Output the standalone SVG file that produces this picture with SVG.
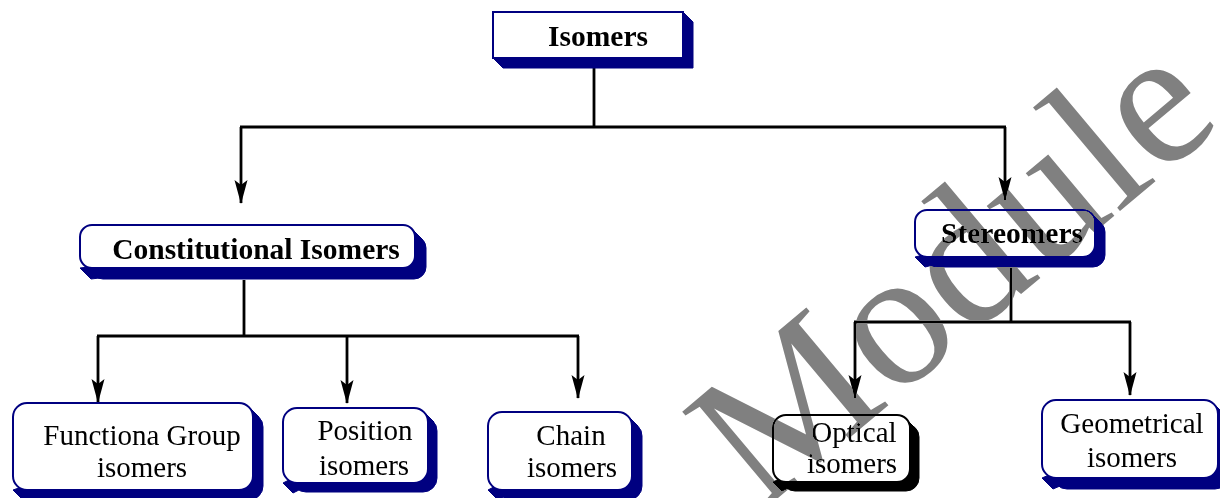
<svg xmlns="http://www.w3.org/2000/svg" width="1220" height="498" viewBox="0 0 1220 498">
<defs>
<style>
.sh{fill:#000080;stroke:#000080;stroke-width:1;stroke-linejoin:round}
.bx{fill:#fff;stroke:#000080;stroke-width:2}
.shk{fill:#000;stroke:#000;stroke-width:1;stroke-linejoin:round}
.bxk{fill:#fff;stroke:#000;stroke-width:2}
.tb{font-family:"Liberation Serif","Times New Roman",serif;font-weight:bold;font-size:29.5px;fill:#000;text-anchor:middle}
.tr{font-family:"Liberation Serif","Times New Roman",serif;font-size:29px;fill:#000;text-anchor:middle}
.ln{fill:none;stroke:#000;stroke-width:2.8}
.ar{fill:none;stroke:#000;stroke-width:2.8;marker-end:url(#ah)}
.wm{font-family:"Liberation Serif","Times New Roman",serif;font-size:195px;fill:#808080;mix-blend-mode:darken}
</style>
<marker id="ah" markerUnits="userSpaceOnUse" markerWidth="30" markerHeight="18" viewBox="-26 -9 28 18" refX="0" refY="0" orient="auto">
<path d="M1,0 L-23,-6.5 L-18,0 L-23,6.5 Z" fill="#000"/>
</marker>
</defs>
<rect width="1220" height="498" fill="#fff"/>

<g id="connectors">
<path class="ln" d="M594,68 V127 M240,127 H1006"/>
<path class="ar" d="M241,127 V203"/>
<path class="ar" d="M1005,127 V200"/>
<path class="ln" d="M244,280 V336 M97,336 H579"/>
<path class="ar" d="M98,336 V402"/>
<path class="ar" d="M347,336 V403"/>
<path class="ar" d="M578,336 V398"/>
<path class="ln" d="M1011,268 V322 M854,322 H1131"/>
<path class="ar" d="M855,322 V398"/>
<path class="ar" d="M1130,322 V395"/>
</g>

<g id="node-isomers">
<path class="sh" d="M683,12 L693,22 V68 H503 L493,58 Z"/>
<rect class="bx" x="493" y="12" width="190" height="46"/>
<text class="tb" x="598" y="46">Isomers</text>
</g>

<g id="node-constitutional">
<path class="sh" d="M411.5,228.5 L422.5,239.5 L91,279 L80,268 Z"/>
<rect class="sh" x="91" y="236" width="335" height="43" rx="12"/>
<rect class="bx" x="80" y="225" width="335" height="43" rx="12"/>
<text class="tb" x="256" y="259">Constitutional Isomers</text>
</g>

<g id="node-stereomers">
<path class="sh" d="M1091.5,213.5 L1101.5,223.5 L925,267 L915,257 Z"/>
<rect class="sh" x="925" y="220" width="180" height="47" rx="12"/>
<rect class="bx" x="915" y="210" width="180" height="47" rx="12"/>
<text class="tb" x="1012" y="243">Stereomers</text>
</g>

<g id="node-functional">
<path class="sh" d="M249,407 L259,417 L23,500 L13,490 Z"/>
<rect class="sh" x="23" y="413" width="240" height="87" rx="14"/>
<rect class="bx" x="13" y="403" width="240" height="87" rx="14"/>
<text class="tr" x="142" y="445">Functiona Group</text>
<text class="tr" x="142" y="477">isomers</text>
</g>

<g id="node-position">
<path class="sh" d="M424,412 L434,422 L293,493 L283,483 Z"/>
<rect class="sh" x="292" y="417" width="145" height="75" rx="14"/>
<rect class="bx" x="283" y="408" width="145" height="75" rx="14"/>
<text class="tr" x="365" y="440">Position</text>
<text class="tr" x="364" y="475">isomers</text>
</g>

<g id="node-chain">
<path class="sh" d="M628,416 L638,426 L498,500 L488,490 Z"/>
<rect class="sh" x="498" y="422" width="144" height="78" rx="14"/>
<rect class="bx" x="488" y="412" width="144" height="78" rx="14"/>
<text class="tr" x="571" y="445">Chain</text>
<text class="tr" x="572" y="477">isomers</text>
</g>

<g id="node-optical">
<path class="shk" d="M906,419 L915,428 L782,491 L773,482 Z"/>
<rect class="shk" x="782" y="424" width="137" height="67" rx="13"/>
<rect class="bxk" x="773" y="415" width="137" height="67" rx="13"/>
<text class="tr" x="854" y="442">Optical</text>
<text class="tr" x="852" y="473">isomers</text>
</g>

<g id="node-geometrical">
<path class="sh" d="M1214,404 L1225,415 L1053,489 L1042,478 Z"/>
<rect class="sh" x="1053" y="411" width="176" height="78" rx="14"/>
<rect class="bx" x="1042" y="400" width="176" height="78" rx="14"/>
<text class="tr" x="1132" y="433">Geometrical</text>
<text class="tr" x="1132" y="467">isomers</text>
</g>

<g id="watermark">
<text class="wm" x="760" y="513" transform="rotate(-40 760 513)">Module</text>
</g>
</svg>
